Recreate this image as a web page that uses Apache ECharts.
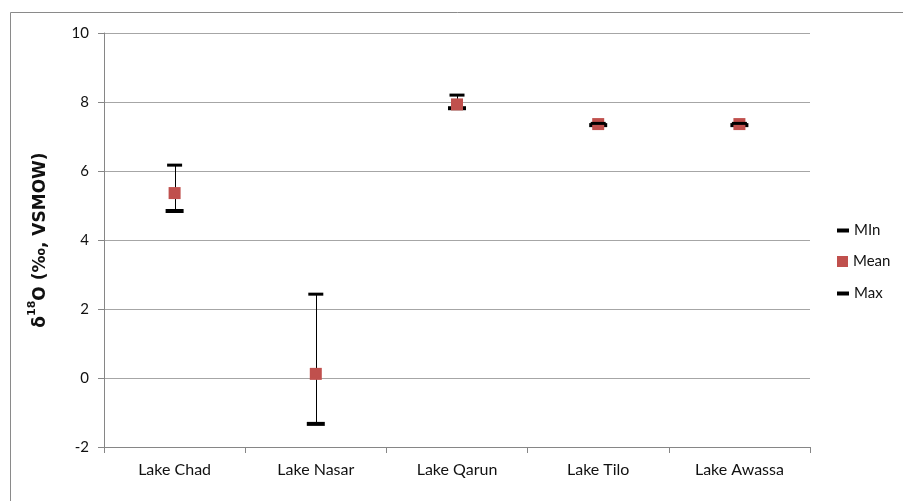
<!DOCTYPE html>
<html><head><meta charset="utf-8">
<script src="https://cdn.jsdelivr.net/npm/echarts@6/dist/echarts.min.js"></script>
<style>html,body{margin:0;padding:0;background:#fff}#c{width:903px;height:501px}</style>
</head><body><div id="c"></div>
<script>
const categories = ['Lake Chad', 'Lake Nasar', 'Lake Qarun', 'Lake Tilo', 'Lake Awassa'];
const minValues = [4.84, -1.33, 7.82, 7.33, 7.33];
const meanValues = [5.36, 0.12, 7.93, 7.36, 7.36];
const maxValues = [6.17, 2.43, 8.2, 7.38, 7.38];
const yTicks = [-2, 0, 2, 4, 6, 8, 10];

const hiLo = categories.map((c, i) => [i, minValues[i], maxValues[i]]);
const FONT = 'Lato';
const TFONT = 'DejaVu Sans';
const TXT = '#111';
const chart = echarts.init(document.getElementById('c'));
chart.setOption({
  animation: false,
  textStyle: {fontFamily: FONT},
  graphic: [{type: 'rect', shape: {x: 10.5, y: 12.5, width: 900, height: 495},
    style: {fill: 'none', stroke: '#8a8a8a', lineWidth: 1}, silent: true}],
  grid: {left: 104, right: 93, top: 33, bottom: 54},
  legend: [
    {data: ['MIn'], left: 832, top: 218, orient: 'vertical', icon: 'rect', itemWidth: 12, itemHeight: 4,
      itemGap: 0, textStyle: {fontSize: 15, color: TXT, fontFamily: FONT}, selectedMode: false},
    {data: ['Mean'], left: 832, top: 249, orient: 'vertical', icon: 'rect', itemWidth: 11, itemHeight: 11,
      textStyle: {fontSize: 15, color: TXT, fontFamily: FONT}, selectedMode: false},
    {data: ['Max'], left: 832, top: 281, orient: 'vertical', icon: 'rect', itemWidth: 12, itemHeight: 4,
      textStyle: {fontSize: 15, color: TXT, fontFamily: FONT}, selectedMode: false}
  ],
  xAxis: {
    type: 'category', data: categories, boundaryGap: true,
    axisLine: {onZero: false, lineStyle: {color: '#868686', width: 1}},
    axisTick: {show: true, length: 6, lineStyle: {color: '#868686'}},
    axisLabel: {color: TXT, fontSize: 16, margin: 15, fontFamily: FONT},
    splitLine: {show: false}
  },
  yAxis: {
    type: 'value', min: yTicks[0], max: yTicks[yTicks.length - 1], interval: 2,
    name: '{a|δ}{s|18}{a|O (‰, VSMOW)}', nameLocation: 'middle', nameGap: 55, nameRotate: 90,
    nameTextStyle: {fontWeight: 'bold', fontSize: 17, fontFamily: TFONT, color: TXT, rich: {
      a: {fontSize: 17, fontWeight: 'bold', color: TXT, fontFamily: TFONT, lineHeight: 22, verticalAlign: 'bottom'},
      s: {fontSize: 11, fontWeight: 'bold', color: TXT, fontFamily: TFONT, lineHeight: 22, verticalAlign: 'top'}
    }},
    axisLine: {show: true, lineStyle: {color: '#868686', width: 1}},
    axisTick: {show: true, length: 6, lineStyle: {color: '#868686'}},
    axisLabel: {color: TXT, fontSize: 15, margin: 15, fontFamily: FONT},
    splitLine: {show: true, lineStyle: {color: '#a6a6a6', width: 1}}
  },
  series: [
    {
      type: 'custom', name: 'hilo', z: 1, silent: true,
      renderItem: function (params, api) {
        const p1 = api.coord([api.value(0), api.value(1)]);
        const p2 = api.coord([api.value(0), api.value(2)]);
        return {type: 'line', shape: {x1: Math.round(p1[0]) + 0.5, y1: p1[1], x2: Math.round(p2[0]) + 0.5, y2: p2[1]},
          style: {stroke: '#000', lineWidth: 1}};
      },
      encode: {x: 0, y: [1, 2]},
      data: hiLo
    },
    {type: 'scatter', name: 'MIn', z: 2, data: minValues, symbol: 'rect', symbolSize: [18, 4],
      itemStyle: {color: '#000', opacity: 1}},
    {type: 'scatter', name: 'Mean', z: 3, data: meanValues, symbol: 'rect', symbolSize: 12,
      itemStyle: {color: '#C0504D', opacity: 1}},
    {type: 'scatter', name: 'Max', z: 4, data: maxValues, symbol: 'rect', symbolSize: [15, 3],
      itemStyle: {color: '#000', opacity: 1}}
  ]
});
</script></body></html>
